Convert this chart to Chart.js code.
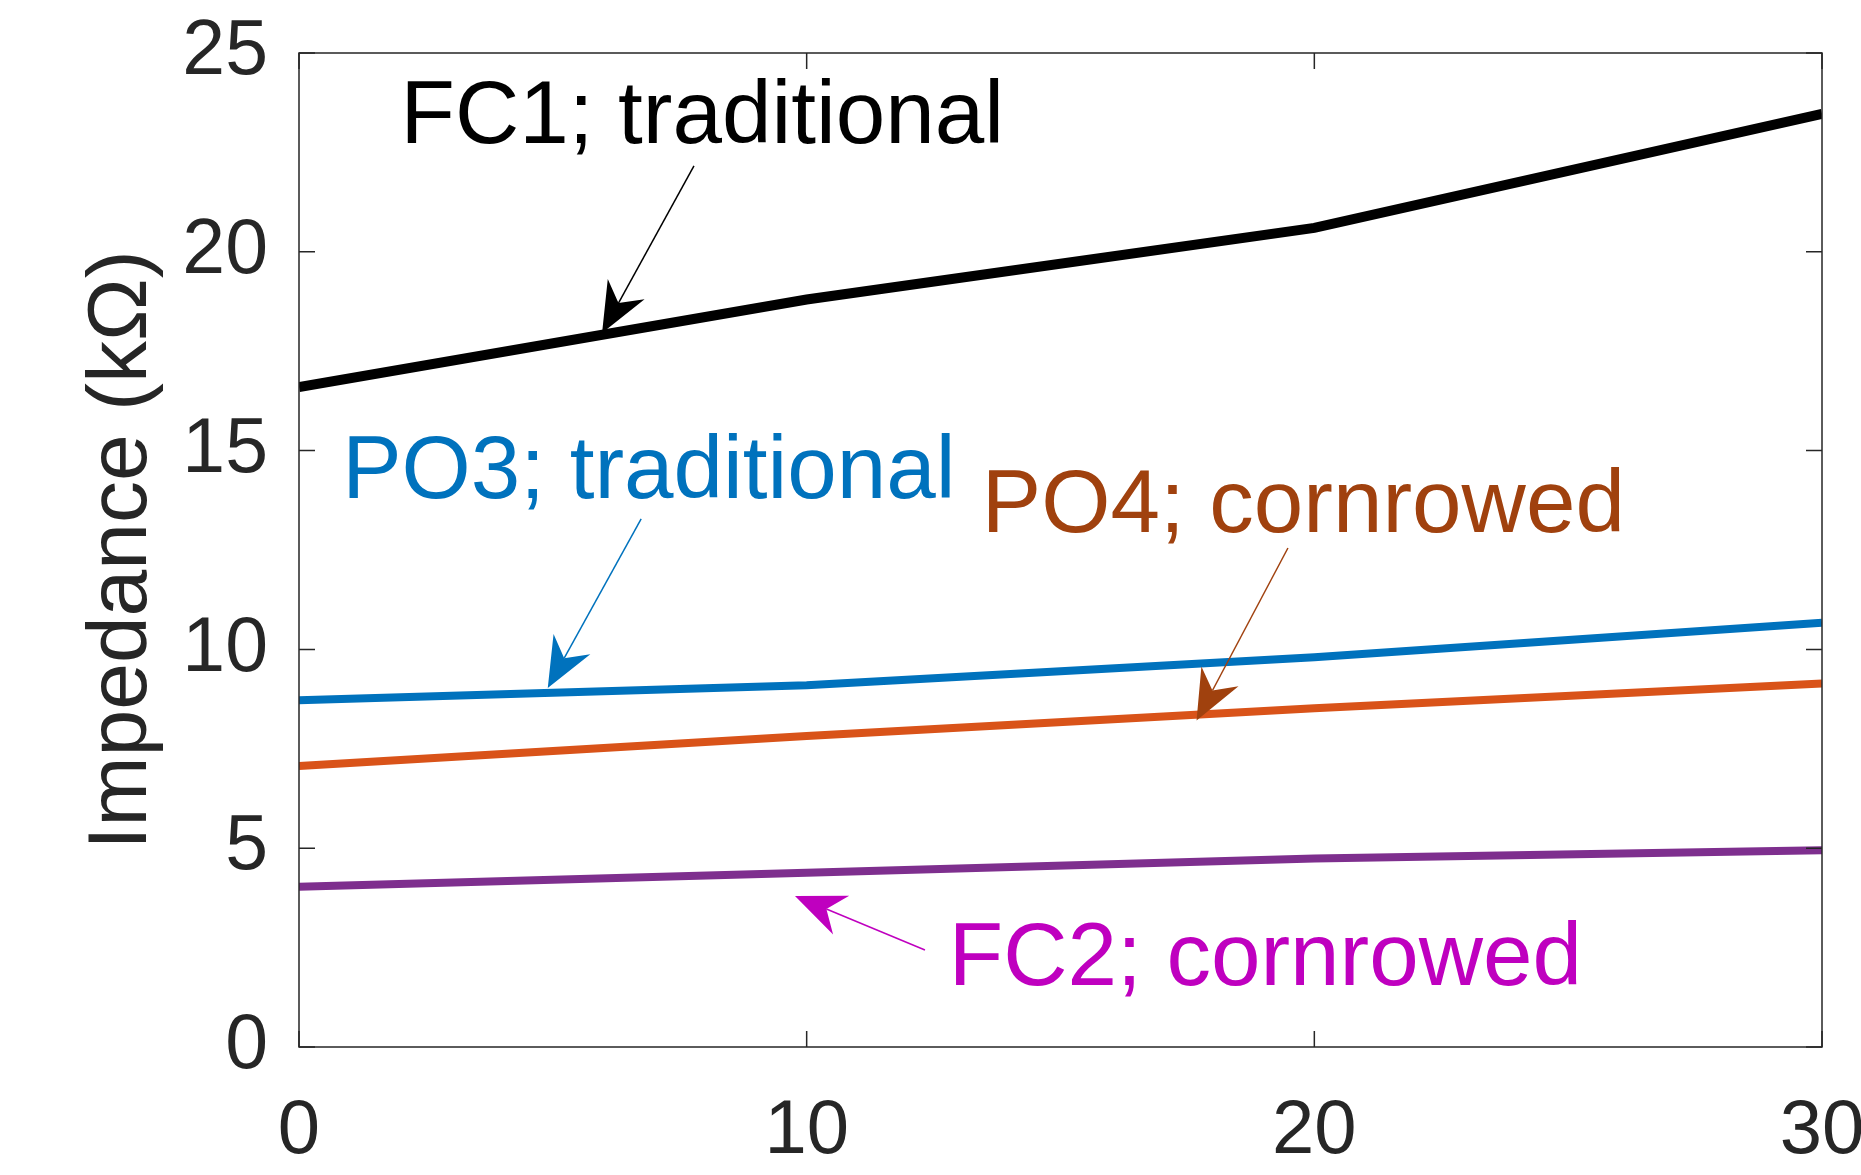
<!DOCTYPE html>
<html>
<head>
<meta charset="utf-8">
<script src="https://cdn.jsdelivr.net/npm/chart.js@4/dist/chart.umd.min.js"></script>
<style>
  html, body { margin: 0; padding: 0; background: #fff; }
  canvas { display: block; }
</style>
</head>
<body>
<canvas id="impChart" width="1861" height="1175"></canvas>
<script>
// values
const xVals = [0, 10, 20, 30];
const fc1Trad = [16.6, 18.8, 20.6, 23.47];
const po3Trad = [8.72, 9.1, 9.8, 10.67];
const po4Corn = [7.07, 7.82, 8.52, 9.14];
const fc2Corn = [4.03, 4.38, 4.74, 4.95];

const xTicks = [0, 10, 20, 30];
const yTicks = [0, 5, 10, 15, 20, 25];

// text labels + arrows, in data units
const noteLabels = ['FC1; traditional', 'PO3; traditional', 'PO4; cornrowed', 'FC2; cornrowed'];
const noteTextX = [2.0, 0.85, 13.45, 12.8];
const noteTextY = [22.74, 13.8, 12.96, 1.56];
const arrowFrom = [[7.78, 22.16], [6.74, 13.28], [19.48, 12.55], [12.33, 2.44]];
const arrowTo = [[5.97, 17.96], [4.9, 9.03], [17.68, 8.21], [9.77, 3.8]];
const noteColors = ['#000000', '#0072BD', '#A0410E', '#BF00BF'];

const FONT = '"Liberation Sans", Arial, Helvetica, sans-serif';
const AXIS_COLOR = '#262626';

function pts(ys) {
    return xVals.map((x, i) => ({ x: x, y: ys[i] }));
}

function drawArrow(ctx, x0, y0, x1, y1, color) {
    const dx = x1 - x0, dy = y1 - y0;
    const len = Math.hypot(dx, dy);
    const ux = dx / len, uy = dy / len;
    const px = -uy, py = ux;
    const headLen = 50, halfW = 21, notch = 34;
    ctx.save();
    ctx.strokeStyle = color;
    ctx.fillStyle = color;
    ctx.lineWidth = 1.5;
    ctx.beginPath();
    ctx.moveTo(x0, y0);
    ctx.lineTo(x1 - ux * notch, y1 - uy * notch);
    ctx.stroke();
    ctx.beginPath();
    ctx.moveTo(x1, y1);
    ctx.lineTo(x1 - ux * headLen + px * halfW, y1 - uy * headLen + py * halfW);
    ctx.lineTo(x1 - ux * notch, y1 - uy * notch);
    ctx.lineTo(x1 - ux * headLen - px * halfW, y1 - uy * headLen - py * halfW);
    ctx.closePath();
    ctx.fill();
    ctx.restore();
}

// box round the axes with inward ticks, like the original figure
const boxPlugin = {
    id: 'boxPlugin',
    afterDraw(chart) {
        const { ctx, chartArea: a, scales } = chart;
        const tl = 16;
        ctx.save();
        ctx.strokeStyle = AXIS_COLOR;
        ctx.lineWidth = 1.5;
        ctx.strokeRect(a.left, a.top, a.right - a.left, a.bottom - a.top);
        ctx.beginPath();
        xTicks.forEach(v => {
            const x = scales.x.getPixelForValue(v);
            ctx.moveTo(x, a.bottom); ctx.lineTo(x, a.bottom - tl);
            ctx.moveTo(x, a.top); ctx.lineTo(x, a.top + tl);
        });
        yTicks.forEach(v => {
            const y = scales.y.getPixelForValue(v);
            ctx.moveTo(a.left, y); ctx.lineTo(a.left + tl, y);
            ctx.moveTo(a.right, y); ctx.lineTo(a.right - tl, y);
        });
        ctx.stroke();
        ctx.restore();
    }
};

const notesPlugin = {
    id: 'notesPlugin',
    afterDatasetsDraw(chart) {
        const { ctx, scales } = chart;
        const sx = scales.x, sy = scales.y;
        ctx.save();
        ctx.font = '89px ' + FONT;
        ctx.textBaseline = 'alphabetic';
        ctx.textAlign = 'left';
        noteLabels.forEach((txt, i) => {
            ctx.fillStyle = noteColors[i];
            ctx.fillText(txt, sx.getPixelForValue(noteTextX[i]), sy.getPixelForValue(noteTextY[i]));
            drawArrow(ctx,
                sx.getPixelForValue(arrowFrom[i][0]), sy.getPixelForValue(arrowFrom[i][1]),
                sx.getPixelForValue(arrowTo[i][0]), sy.getPixelForValue(arrowTo[i][1]),
                noteColors[i]);
        });
        ctx.restore();
    }
};

const ctx = document.getElementById('impChart').getContext('2d');
const chart = new Chart(ctx, {
    type: 'scatter',
    data: {
        datasets: [
            { label: 'FC1; traditional', data: pts(fc1Trad), borderColor: '#000000', borderWidth: 10 },
            { label: 'PO3; traditional', data: pts(po3Trad), borderColor: '#0072BD', borderWidth: 8 },
            { label: 'PO4; cornrowed', data: pts(po4Corn), borderColor: '#D95319', borderWidth: 8 },
            { label: 'FC2; cornrowed', data: pts(fc2Corn), borderColor: '#7E2F8E', borderWidth: 8 }
        ].map(d => Object.assign(d, {
            showLine: true, pointRadius: 0, tension: 0, clip: 0, borderCapStyle: 'butt'
        }))
    },
    options: {
        responsive: false,
        devicePixelRatio: 1,
        animation: false,
        layout: { padding: { top: 53, right: 39, left: 0, bottom: 0 } },
        plugins: { legend: { display: false }, tooltip: { enabled: false } },
        scales: {
            x: {
                type: 'linear', min: 0, max: 30,
                grid: { display: false, drawTicks: false },
                border: { display: false },
                ticks: {
                    stepSize: 10, padding: 39, color: AXIS_COLOR,
                    font: { family: FONT, size: 76 }, maxRotation: 0
                },
                afterFit(scale) {
                    scale.height = 128;
                    scale.paddingLeft = 0;
                    scale.paddingRight = 0;
                }
            },
            y: {
                type: 'linear', min: 0, max: 25,
                grid: { display: false, drawTicks: false },
                border: { display: false },
                ticks: {
                    stepSize: 5, padding: 31, color: AXIS_COLOR,
                    font: { family: FONT, size: 77 }
                },
                title: {
                    display: true, text: 'Impedance (kΩ)', color: AXIS_COLOR,
                    font: { family: FONT, size: 84 },
                    padding: { top: 72, bottom: 0 }
                },
                afterFit(scale) {
                    scale.width = 299;
                    scale.paddingTop = 0;
                    scale.paddingBottom = 0;
                }
            }
        }
    },
    plugins: [notesPlugin, boxPlugin]
});
</script>
</body>
</html>
